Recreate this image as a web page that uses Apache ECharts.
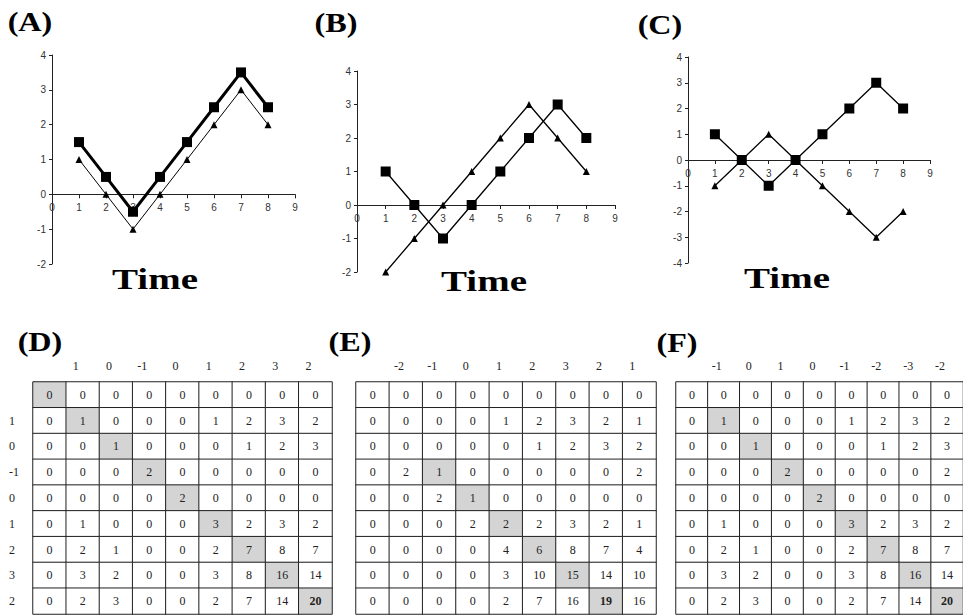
<!DOCTYPE html>
<html>
<head>
<meta charset="utf-8">
<script src="https://cdn.jsdelivr.net/npm/echarts@6/dist/echarts.min.js"></script>
<style>html,body{margin:0;padding:0;background:#fff}#c{width:963px;height:615px}</style>
</head>
<body>
<div id="c"></div>
<script>
// ---- line chart data ----
const timeX = [1, 2, 3, 4, 5, 6, 7, 8];
const aSquare = [1.5, 0.5, -0.5, 0.5, 1.5, 2.5, 3.5, 2.5];
const aTriangle = [1, 0, -1, 0, 1, 2, 3, 2];
const bSquare = [1, 0, -1, 0, 1, 2, 3, 2];
const bTriangle = [-2, -1, 0, 1, 2, 3, 2, 1];
const cSquare = [1, 0, -1, 0, 1, 2, 3, 2];
const cTriangle = [-1, 0, 1, 0, -1, -2, -3, -2];

// ---- table data ----
const dColHeaders = ['', '1', '0', '-1', '0', '1', '2', '3', '2'];
const dRowHeaders = ['', '1', '0', '-1', '0', '1', '2', '3', '2'];
const eColHeaders = ['', '-2', '-1', '0', '1', '2', '3', '2', '1'];
const fColHeaders = ['', '-1', '0', '1', '0', '-1', '-2', '-3', '-2'];

const dValues = [
  [0, 0, 0, 0, 0, 0, 0, 0, 0],
  [0, 1, 0, 0, 0, 1, 2, 3, 2],
  [0, 0, 1, 0, 0, 0, 1, 2, 3],
  [0, 0, 0, 2, 0, 0, 0, 0, 0],
  [0, 0, 0, 0, 2, 0, 0, 0, 0],
  [0, 1, 0, 0, 0, 3, 2, 3, 2],
  [0, 2, 1, 0, 0, 2, 7, 8, 7],
  [0, 3, 2, 0, 0, 3, 8, 16, 14],
  [0, 2, 3, 0, 0, 2, 7, 14, 20]
];
const eValues = [
  [0, 0, 0, 0, 0, 0, 0, 0, 0],
  [0, 0, 0, 0, 1, 2, 3, 2, 1],
  [0, 0, 0, 0, 0, 1, 2, 3, 2],
  [0, 2, 1, 0, 0, 0, 0, 0, 2],
  [0, 0, 2, 1, 0, 0, 0, 0, 0],
  [0, 0, 0, 2, 2, 2, 3, 2, 1],
  [0, 0, 0, 0, 4, 6, 8, 7, 4],
  [0, 0, 0, 0, 3, 10, 15, 14, 10],
  [0, 0, 0, 0, 2, 7, 16, 19, 16]
];
const fValues = [
  [0, 0, 0, 0, 0, 0, 0, 0, 0],
  [0, 1, 0, 0, 0, 1, 2, 3, 2],
  [0, 0, 1, 0, 0, 0, 1, 2, 3],
  [0, 0, 0, 2, 0, 0, 0, 0, 2],
  [0, 0, 0, 0, 2, 0, 0, 0, 0],
  [0, 1, 0, 0, 0, 3, 2, 3, 2],
  [0, 2, 1, 0, 0, 2, 7, 8, 7],
  [0, 3, 2, 0, 0, 3, 8, 16, 14],
  [0, 2, 3, 0, 0, 2, 7, 14, 20]
];
// shaded cells [row, col]
const dShaded = [[0,0],[1,1],[2,2],[3,3],[4,4],[5,5],[6,6],[7,7],[8,8]];
const eShaded = [[3,2],[4,3],[5,4],[6,5],[7,6],[8,7]];
const fShaded = [[1,1],[2,2],[3,3],[4,4],[5,5],[6,6],[7,7],[8,8]];
// bold cells [row, col]
const dBold = [[8,8]];
const eBold = [[8,7]];
const fBold = [[8,8]];

const idx = [0, 1, 2, 3, 4, 5, 6, 7, 8];
const pairs = (xs, ys) => xs.map((x, i) => [x, ys[i]]);
const has = (list, r, c) => list.some(p => p[0] === r && p[1] === c);

function tableData(vals, shaded, bold) {
  const out = [];
  vals.forEach((row, r) => row.forEach((v, c) => {
    out.push({
      value: [c, r, v],
      itemStyle: { color: has(shaded, r, c) ? '#d4d4d4' : '#ffffff' },
      label: { fontWeight: has(bold, r, c) ? 'bold' : 'normal' }
    });
  }));
  return out;
}

const grids = [
  { left: 52, top: 55, width: 243, height: 209 },
  { left: 357, top: 71, width: 258, height: 201 },
  { left: 688, top: 57, width: 242, height: 206 },
  { left: 33, top: 382, width: 299, height: 232 },
  { left: 356, top: 382, width: 300, height: 232 },
  { left: 676, top: 382, width: 301, height: 232 }
];
const yRanges = [[-2, 4], [-2, 4], [-4, 4]];

const tickFont = { fontFamily: 'Liberation Sans Narrow, Liberation Sans, Arial', fontSize: 10, color: '#333' };

function lineX(gi) {
  const r = yRanges[gi];
  // move the whole x axis (line, ticks, labels) up to the y = 0 level
  const off = -grids[gi].height * (0 - r[0]) / (r[1] - r[0]);
  return {
    type: 'value', gridIndex: gi, min: 0, max: 9, interval: 1, offset: off,
    axisLine: { onZero: false, lineStyle: { color: '#222', width: 1 } },
    axisTick: { show: true, length: 4, inside: false, lineStyle: { color: '#222' } },
    axisLabel: Object.assign({ margin: 8 }, tickFont),
    splitLine: { show: false }
  };
}
function lineY(gi) {
  const r = yRanges[gi];
  return {
    type: 'value', gridIndex: gi, min: r[0], max: r[1], interval: 1,
    axisLine: { show: true, onZero: false, lineStyle: { color: '#222', width: 1 } },
    axisTick: { show: true, length: 3, lineStyle: { color: '#222' } },
    axisLabel: Object.assign({ margin: 6 }, tickFont),
    splitLine: { show: false }
  };
}
function tableX(gi, headers) {
  return {
    type: 'category', gridIndex: gi, position: 'top', data: idx,
    axisLine: { show: false }, axisTick: { show: false }, splitLine: { show: false },
    axisLabel: {
      margin: 10, interval: 0, padding: [0, 14, 0, 0],
      fontFamily: 'Liberation Serif, Times New Roman', fontSize: 12, color: '#222',
      formatter: (v, i) => headers[i]
    }
  };
}
function tableY(gi, headers) {
  return {
    type: 'category', gridIndex: gi, inverse: true, data: idx,
    axisLine: { show: false }, axisTick: { show: false }, splitLine: { show: false },
    axisLabel: {
      show: !!headers, margin: 24, align: 'left',
      fontFamily: 'Liberation Serif, Times New Roman', fontSize: 12, color: '#222',
      formatter: (v, i) => headers ? headers[i] : ''
    }
  };
}
function lineSeries(gi, ys, sym, size, w) {
  return {
    type: 'line', xAxisIndex: gi, yAxisIndex: gi, data: pairs(timeX, ys),
    symbol: sym, symbolSize: size, showSymbol: true,
    lineStyle: { color: '#000', width: w }, itemStyle: { color: '#000' },
    animation: false, silent: true
  };
}
function tableSeries(gi, vals, shaded, bold) {
  return {
    type: 'heatmap', xAxisIndex: gi, yAxisIndex: gi,
    data: tableData(vals, shaded, bold),
    itemStyle: { borderColor: '#222', borderWidth: 1 },
    label: {
      show: true, formatter: p => String(p.value[2]),
      fontFamily: 'Liberation Serif, Times New Roman', fontSize: 12, color: '#222'
    },
    emphasis: { disabled: true }, animation: false, silent: true
  };
}

const serif = 'bold {s}px "Liberation Serif", "Times New Roman", serif';
function bigText(txt, x, y, size, sx) {
  return {
    type: 'text', x: x, y: y, scaleX: sx, scaleY: 1, silent: true,
    style: { text: txt, font: serif.replace('{s}', size), fill: '#000', align: 'center', verticalAlign: 'middle' }
  };
}

const chart = echarts.init(document.getElementById('c'), null, { renderer: 'svg' });
chart.setOption({
  animation: false,
  backgroundColor: '#fff',
  grid: grids,
  xAxis: [lineX(0), lineX(1), lineX(2), tableX(3, dColHeaders), tableX(4, eColHeaders), tableX(5, fColHeaders)],
  yAxis: [lineY(0), lineY(1), lineY(2), tableY(3, dRowHeaders), tableY(4, null), tableY(5, null)],
  series: [
    lineSeries(0, aSquare, 'rect', 10, 3),
    lineSeries(0, aTriangle, 'triangle', 7, 1),
    lineSeries(1, bSquare, 'rect', 10, 1.3),
    lineSeries(1, bTriangle, 'triangle', 7, 1.3),
    lineSeries(2, cSquare, 'rect', 10, 1.3),
    lineSeries(2, cTriangle, 'triangle', 7, 1.3),
    tableSeries(3, dValues, dShaded, dBold),
    tableSeries(4, eValues, eShaded, eBold),
    tableSeries(5, fValues, fShaded, fBold)
  ],
  graphic: [
    bigText('(A)', 30, 22, 28, 1.15),
    bigText('(B)', 336, 23, 28, 1.15),
    bigText('(C)', 660, 25, 28, 1.15),
    bigText('(D)', 40, 342, 28, 1.15),
    bigText('(E)', 350, 342, 28, 1.15),
    bigText('(F)', 677, 343, 28, 1.15),
    bigText('Time', 155, 279, 30, 1.3),
    bigText('Time', 484, 281, 30, 1.3),
    bigText('Time', 787, 278, 30, 1.3)
  ]
});
</script>
</body>
</html>
